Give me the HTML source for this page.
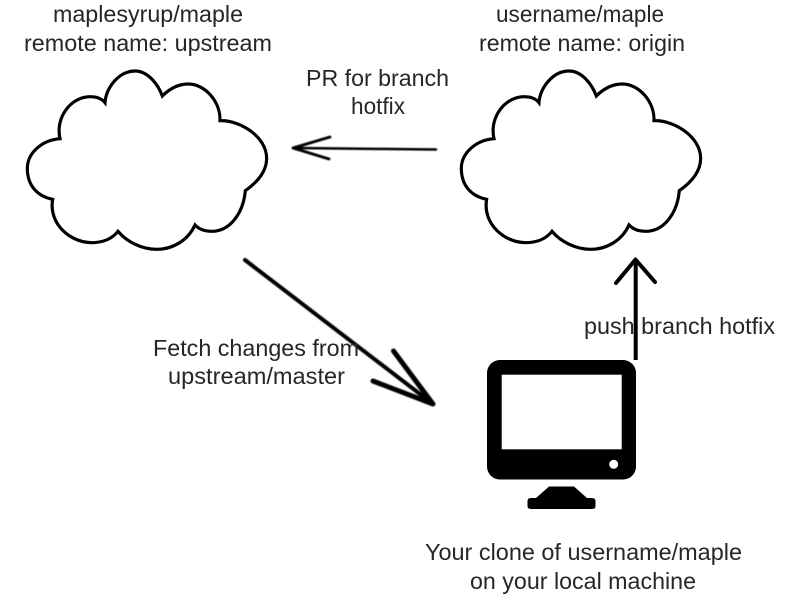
<!DOCTYPE html>
<html>
<head>
<meta charset="utf-8">
<style>
html,body{margin:0;padding:0;background:#fff;width:800px;height:600px;overflow:hidden}
svg{display:block}
text{font-family:"Liberation Sans",sans-serif;font-size:23px;fill:#262626}
</style>
</head>
<body>
<svg width="800" height="600" viewBox="0 0 800 600" xmlns="http://www.w3.org/2000/svg">
<defs>
<path id="c" fill="#fff" stroke="#000" stroke-width="9.500" stroke-linejoin="miter" d="M315,128 C318,85 355,33 405,33 C445,33 475,75 487,108 C510,85 535,72 565,72 C615,72 662,125 660,182 C720,180 800,230 800,295 C800,335 770,368 736,392 C730,460 690,514 635,514 C615,514 597,508 585,495 C565,540 520,568 470,568 C425,568 380,545 354,514 C335,538 310,548 275,548 C210,548 145,490 158,418 C110,408 82,375 82,325 C82,280 125,240 180,236 C165,170 215,110 270,110 C290,110 305,115 315,128 Z"/>
<filter id="b" x="-5%" y="-5%" width="110%" height="110%"><feGaussianBlur stdDeviation="0.5"/></filter>
</defs>
<g transform="translate(0,60) scale(.3333)"><use href="#c"/></g>
<g transform="translate(434,60) scale(.3333)"><use href="#c"/></g>

<!-- left arrow -->
<g fill="none" stroke="#000" stroke-linecap="round" stroke-linejoin="round" filter="url(#b)">
<path d="M436,149.500 L295,148" stroke-width="2.500"/>
<path d="M330,137 L293,148 L329,159" stroke-width="2.800"/>
<!-- diagonal arrow -->
<path d="M245,260 L433,404" stroke-width="4"/>
<path d="M393.500,351 L433,404 L373,381" stroke-width="5"/>
</g>
<!-- up arrow -->
<g fill="none" stroke="#000" stroke-linecap="round" stroke-linejoin="round">
<path d="M635.700,360 L635.700,262" stroke-width="4" stroke-linecap="butt"/>
<path d="M616,283 L635.500,259.500 L655,282" stroke-width="4"/>
</g>

<!-- monitor -->
<rect x="487" y="360" width="149" height="119.500" rx="13" fill="#000"/>
<rect x="501.700" y="374.700" width="120" height="74.600" fill="#fff"/>
<circle cx="613.700" cy="464.300" r="4.500" fill="#fff"/>
<path d="M549,486.500 L574,486.500 L587,498 L592,498 Q595.500,498 595.500,501 L595.500,506 Q595.500,509 592,509 L531,509 Q527.500,509 527.500,506 L527.500,501 Q527.500,498 531,498 L536,498 Z" fill="#000"/>

<text x="53" y="22" textLength="190" lengthAdjust="spacingAndGlyphs">maplesyrup/maple</text>
<text x="24" y="51" textLength="248" lengthAdjust="spacingAndGlyphs">remote name: upstream</text>
<text x="496" y="22" textLength="168" lengthAdjust="spacingAndGlyphs">username/maple</text>
<text x="479" y="51" textLength="206" lengthAdjust="spacingAndGlyphs">remote name: origin</text>
<text x="306" y="86" textLength="143" lengthAdjust="spacingAndGlyphs">PR for branch</text>
<text x="351" y="114" textLength="54" lengthAdjust="spacingAndGlyphs">hotfix</text>
<text x="153" y="356" textLength="206" lengthAdjust="spacingAndGlyphs">Fetch changes from</text>
<text x="168" y="384" textLength="177" lengthAdjust="spacingAndGlyphs">upstream/master</text>
<text x="584" y="334" textLength="191" lengthAdjust="spacingAndGlyphs">push branch hotfix</text>
<text x="425" y="560" textLength="317" lengthAdjust="spacingAndGlyphs">Your clone of username/maple</text>
<text x="470" y="589" textLength="226" lengthAdjust="spacingAndGlyphs">on your local machine</text>
</svg>
</body>
</html>
